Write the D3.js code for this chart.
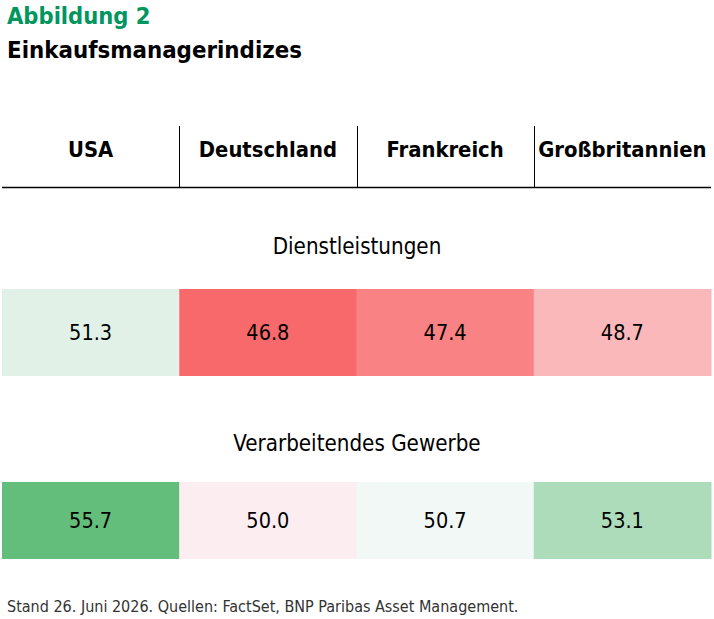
<!DOCTYPE html>
<html>
<head>
<meta charset="utf-8">
<script src="https://cdn.jsdelivr.net/npm/d3@7"></script>
<style>
  body { margin: 0; background: #fff; }
  text { font-family: "Liberation Sans Narrow", "DejaVu Sans Condensed", "Roboto", sans-serif; }
</style>
</head>
<body>
<svg id="chart" width="714" height="619"></svg>
<script>
const countries = ["USA", "Deutschland", "Frankreich", "Großbritannien"]
const sections = ["Dienstleistungen", "Verarbeitendes Gewerbe"]
const services = [51.3, 46.8, 47.4, 48.7]
const manufacturing = [55.7, 50.0, 50.7, 53.1]

const title = "Abbildung 2"
const subtitle = "Einkaufsmanagerindizes"
const note = "Stand 26. Juni 2026. Quellen: FactSet, BNP Paribas Asset Management."

const w = 714
const h = 619
const svg = d3.select("#chart")

// columns
const x = d3.scaleBand().domain(countries).range([2, 711])

const rowsData = [services, manufacturing]
const allValues = rowsData.flat()

// excel-like 3 colour scale: red - white - green, mid at median
const color = d3
  .scaleLinear()
  .domain([d3.min(allValues), d3.median(allValues), d3.max(allValues)])
  .range(["#F8696B", "#FCFCFF", "#63BE7B"])

// titles
svg.append("text")
  .attr("x", 7)
  .attr("y", 24)
  .attr("fill", "#00965E")
  .attr("font-size", 23.5)
  .attr("font-weight", "bold")
  .text(title)

svg.append("text")
  .attr("x", 7)
  .attr("y", 58)
  .attr("fill", "#000")
  .attr("font-size", 23.8)
  .attr("font-weight", "bold")
  .text(subtitle)

// header
const header = svg.append("g").classed("header", true)

header.selectAll("text")
  .data(countries)
  .join("text")
  .attr("x", (d) => x(d) + x.bandwidth() / 2)
  .attr("y", 157)
  .attr("text-anchor", "middle")
  .attr("font-size", 21.8)
  .attr("font-weight", "bold")
  .text((d) => d)

header.selectAll("line.sep")
  .data(countries.slice(1))
  .join("line")
  .classed("sep", true)
  .attr("x1", (d) => Math.round(x(d)) + 0.5)
  .attr("x2", (d) => Math.round(x(d)) + 0.5)
  .attr("y1", 126)
  .attr("y2", 187)
  .attr("stroke", "#000")
  .attr("stroke-width", 1)

header.append("line")
  .attr("x1", 2)
  .attr("x2", 711)
  .attr("y1", 187.5)
  .attr("y2", 187.5)
  .attr("stroke", "#000")
  .attr("stroke-width", 1.3)

// sections
const sectionTop = [289, 482]
const sectionHeight = [87, 77]
const labelY = [254, 451]
const valueSize = 21.5

sections.forEach((name, s) => {
  const g = svg.append("g").classed("section", true)

  g.append("text")
    .attr("x", w / 2)
    .attr("y", labelY[s])
    .attr("text-anchor", "middle")
    .attr("font-size", 22.2)
    .text(name)

  const cells = g.selectAll("g.cell")
    .data(rowsData[s].map((v, i) => ({ country: countries[i], value: v })))
    .join("g")
    .classed("cell", true)

  cells.append("rect")
    .attr("x", (d) => x(d.country))
    .attr("y", sectionTop[s])
    .attr("width", x.bandwidth() + 0.5)
    .attr("height", sectionHeight[s])
    .attr("fill", (d) => color(d.value))

  cells.append("text")
    .attr("x", (d) => x(d.country) + x.bandwidth() / 2)
    .attr("y", sectionTop[s] + sectionHeight[s] / 2 + valueSize * 0.36)
    .attr("text-anchor", "middle")
    .attr("font-size", valueSize)
    .attr("fill", "#000")
    .text((d) => d3.format(".1f")(d.value))
})

// footnote
svg.append("text")
  .attr("x", 7)
  .attr("y", 612)
  .attr("font-size", 16)
  .attr("fill", "#333")
  .text(note)
</script>
</body>
</html>
